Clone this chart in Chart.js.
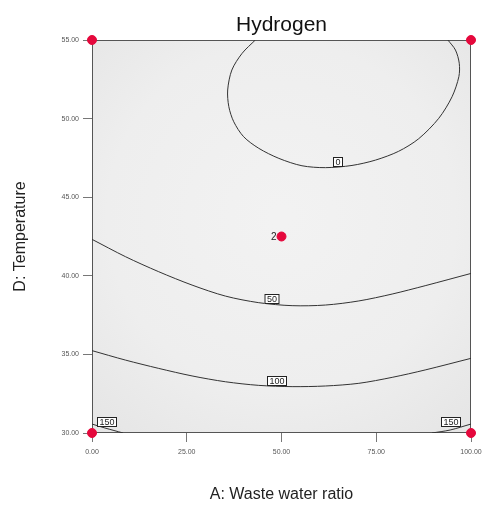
<!DOCTYPE html>
<html>
<head>
<meta charset="utf-8">
<script src="https://cdn.jsdelivr.net/npm/chart.js@4.4.1/dist/chart.umd.min.js"></script>
<style>
  html, body { margin: 0; padding: 0; background: #fff; }
  #wrap { width: 494px; height: 529px; }
</style>
</head>
<body>
<div id="wrap"><canvas id="contour"></canvas></div>
<script>
// axis ticks
const ratioTicks = [0, 25, 50, 75, 100];
const tempTicks = [30, 35, 40, 45, 50, 55];

// contour traces (A: waste water ratio, D: temperature)
const c0A = [43.1, 39.6, 36.9, 35.8, 36.1, 37.4, 40.0, 44.0, 49.3, 55.4, 61.6, 68.6, 74.8, 80.9, 86.2, 91.5, 95.0, 96.8, 96.9, 95.9, 93.9];
const c0D = [55.0, 54.15, 53.09, 51.82, 50.76, 49.80, 48.85, 48.11, 47.47, 47.00, 46.88, 47.02, 47.36, 47.92, 48.72, 50.02, 51.39, 52.67, 53.52, 54.36, 55.0];
const c50A = [0, 8.8, 17.6, 26.4, 35.2, 44.0, 52.8, 61.6, 70.4, 79.2, 87.9, 100];
const c50D = [42.32, 41.22, 40.26, 39.41, 38.71, 38.29, 38.10, 38.14, 38.40, 38.84, 39.37, 40.15];
const c100A = [0, 8.8, 17.6, 26.4, 35.2, 44.0, 52.8, 61.6, 70.4, 79.2, 87.9, 100];
const c100D = [35.24, 34.64, 34.11, 33.63, 33.26, 33.03, 32.95, 32.99, 33.16, 33.54, 34.01, 34.75];
const c150lA = [0, 3.4, 8.2];
const c150lD = [30.57, 30.32, 30.0];
const c150rA = [89.7, 94.5, 100];
const c150rD = [30.0, 30.19, 30.57];

// contour level labels
const levelText = ['0', '50', '100', '150', '150'];
const levelA = [64.9, 47.5, 48.8, 4.0, 94.7];
const levelD = [47.24, 38.52, 33.31, 30.70, 30.70];

// design points and replicate counts
const designA = [0, 100, 0, 100, 50];
const designD = [55, 55, 30, 30, 42.5];
const designReps = [1, 1, 1, 1, 2];

const pts = (xs, ys) => xs.map((x, i) => ({ x, y: ys[i] }));

const contourStyle = {
  borderColor: '#333',
  borderWidth: 1,
  pointRadius: 0,
  tension: 0.3,
  fill: false
};

const plotBg = {
  id: 'plotBg',
  beforeDraw(chart) {
    const { ctx, chartArea: a } = chart;
    ctx.save();
    ctx.fillStyle = '#fff';
    ctx.fillRect(0, 0, chart.width, chart.height);
    const cx = (a.left + a.right) / 2, cy = a.top + (a.bottom - a.top) * 0.45;
    const g = ctx.createRadialGradient(cx, cy, 10, cx, cy, (a.right - a.left) * 0.75);
    g.addColorStop(0, '#f2f2f2');
    g.addColorStop(0.6, '#eeeeee');
    g.addColorStop(1, '#e5e5e5');
    ctx.fillStyle = g;
    ctx.fillRect(a.left, a.top, a.right - a.left, a.bottom - a.top);
    ctx.restore();
  },
  beforeDatasetsDraw(chart) {
    const { ctx, chartArea: a } = chart;
    ctx.save();
    ctx.strokeStyle = '#555';
    ctx.lineWidth = 1;
    ctx.strokeRect(a.left + 0.5, a.top + 0.5, a.right - a.left - 1, a.bottom - a.top - 1);
    ctx.restore();
  }
};

const labelsPlugin = {
  id: 'labels',
  afterDatasetsDraw(chart) {
    const { ctx, scales: { x, y } } = chart;
    ctx.save();
    ctx.font = '9px "Liberation Sans", Arial, sans-serif';
    ctx.textAlign = 'center';
    ctx.textBaseline = 'middle';
    levelText.forEach((t, i) => {
      const px = Math.round(x.getPixelForValue(levelA[i]));
      const py = Math.round(y.getPixelForValue(levelD[i]));
      const w = Math.ceil(ctx.measureText(t).width) + 4;
      ctx.fillStyle = '#fff';
      ctx.fillRect(px - w / 2, py - 5, w, 10);
      ctx.strokeStyle = '#222';
      ctx.lineWidth = 1;
      ctx.strokeRect(px - w / 2 + 0.5, py - 4.5, w - 1, 9);
      ctx.fillStyle = '#222';
      ctx.fillText(t, px, py + 0.5);
    });
    // replicate count beside a design point
    ctx.textAlign = 'right';
    ctx.font = '10px "Liberation Sans", Arial, sans-serif';
    designReps.forEach((n, i) => {
      if (n < 2) return;
      ctx.fillStyle = '#222';
      ctx.fillText(String(n), x.getPixelForValue(designA[i]) - 5, y.getPixelForValue(designD[i]) + 0.5);
    });
    ctx.restore();
  }
};

const titlePlugin = {
  id: 'mainTitle',
  afterDraw(chart) {
    const { ctx, chartArea: a } = chart;
    ctx.save();
    ctx.font = '21px "Liberation Sans", Arial, sans-serif';
    ctx.fillStyle = '#111';
    ctx.textAlign = 'center';
    ctx.textBaseline = 'alphabetic';
    ctx.fillText('Hydrogen', (a.left + a.right) / 2, 31);
    ctx.restore();
  }
};

new Chart(document.getElementById('contour'), {
  type: 'line',
  data: {
    datasets: [
      { ...contourStyle, data: pts(c0A, c0D) },
      { ...contourStyle, data: pts(c50A, c50D) },
      { ...contourStyle, data: pts(c100A, c100D) },
      { ...contourStyle, data: pts(c150lA, c150lD) },
      { ...contourStyle, data: pts(c150rA, c150rD) },
      {
        data: pts(designA, designD),
        showLine: false,
        pointRadius: 4.5,
        pointBackgroundColor: '#e5083c',
        pointBorderColor: '#e5083c',
        clip: false
      }
    ]
  },
  options: {
    responsive: true,
    maintainAspectRatio: false,
    animation: false,
    layout: { padding: { left: 0, top: 40, right: 23, bottom: 0 } },
    plugins: { legend: { display: false }, tooltip: { enabled: false } },
    scales: {
      x: {
        type: 'linear',
        min: 0, max: 100,
        afterBuildTicks: s => { s.ticks = ratioTicks.map(v => ({ value: v })); },
        afterFit: s => { s.height = 96; },
        grid: { drawOnChartArea: false, tickLength: 9, color: '#777' },
        border: { display: false },
        ticks: {
          padding: 6,
          color: '#555',
          font: { size: 7, family: '"Liberation Sans", Arial, sans-serif' },
          callback: v => Number(v).toFixed(2),
          maxRotation: 0
        },
        title: {
          display: true,
          text: 'A: Waste water ratio',
          color: '#222',
          font: { size: 16, family: '"Liberation Sans", Arial, sans-serif' },
          padding: { top: 0, bottom: 25 }
        }
      },
      y: {
        type: 'linear',
        min: 30, max: 55,
        afterBuildTicks: s => { s.ticks = tempTicks.map(v => ({ value: v })); },
        afterFit: s => { s.width = 92; },
        grid: { drawOnChartArea: false, tickLength: 9, color: '#777' },
        border: { display: false },
        ticks: {
          padding: 4,
          color: '#555',
          font: { size: 7, family: '"Liberation Sans", Arial, sans-serif' },
          callback: v => Number(v).toFixed(2)
        },
        title: {
          display: true,
          text: 'D: Temperature',
          color: '#222',
          font: { size: 16, family: '"Liberation Sans", Arial, sans-serif' },
          padding: { top: 11, bottom: 0 }
        }
      }
    }
  },
  plugins: [plotBg, labelsPlugin, titlePlugin]
});
</script>
</body>
</html>
